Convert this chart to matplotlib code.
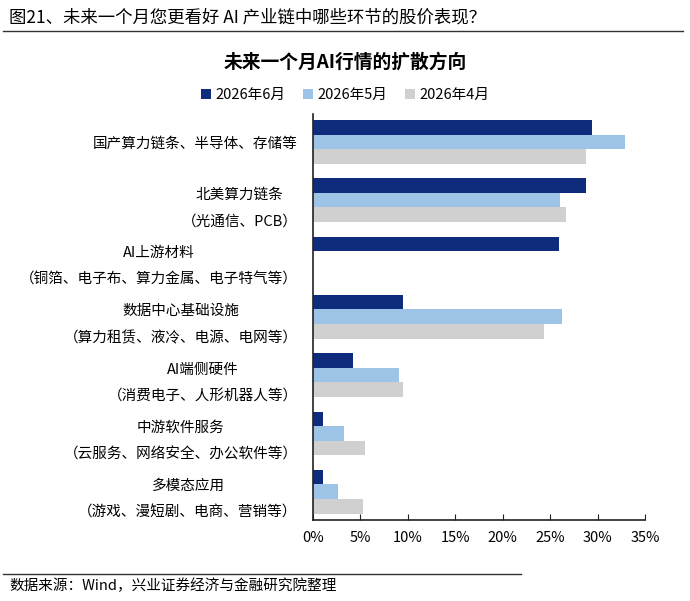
import matplotlib.pyplot as plt
import numpy as np

plt.rcParams['font.family'] = ['Noto Sans CJK SC', 'DejaVu Sans']

categories = ['国产算力链条、半导体、存储等',
              '北美算力链条\n（光通信、PCB）',
              'AI上游材料\n（铜箔、电子布、算力金属、电子特气等）',
              '数据中心基础设施\n（算力租赁、液冷、电源、电网等）',
              'AI端侧硬件\n（消费电子、人形机器人等）',
              '中游软件服务\n（云服务、网络安全、办公软件等）',
              '多模态应用\n（游戏、漫短剧、电商、营销等）']
jun_2026 = [29.4, 28.8, 25.9, 9.5, 4.2, 1.1, 1.1]
may_2026 = [32.9, 26.0, 0, 26.2, 9.1, 3.3, 2.6]
apr_2026 = [28.8, 26.7, 0, 24.4, 9.5, 5.5, 5.3]
series_names = ['2026年6月', '2026年5月', '2026年4月']
colors = ['#0E2B7C', '#9DC3E6', '#D0D0D0']

fig = plt.figure(figsize=(6.9, 6.01), dpi=100)
ax = fig.add_axes([0.4536, 0.1348, 0.4812, 0.6763])

y = np.arange(len(categories))
h = 0.25
for k, (vals, name) in enumerate(zip([jun_2026, may_2026, apr_2026], series_names)):
    ax.barh(y - h + k * h, vals, height=h, color=colors[k], label=name)

ax.set_ylim(len(categories) - 0.515, -0.485)
ax.set_xlim(0, 35)
ax.set_xticks(np.arange(0, 36, 5))
ax.set_xticklabels([f'{v}%' for v in range(0, 36, 5)], fontsize=10.5)
ax.set_yticks(y)
ax.set_yticklabels(categories, fontsize=10.5, multialignment='center', linespacing=2.15)
ax.tick_params(axis='y', length=0, pad=11)
ax.tick_params(axis='x', direction='in', length=4, pad=8, color='#222222')
for s in ['top', 'right']:
    ax.spines[s].set_visible(False)
for s in ['left', 'bottom']:
    ax.spines[s].set_color('#222222')
    ax.spines[s].set_linewidth(1.2)

fig.legend(loc='center', bbox_to_anchor=(0.5, 0.842), ncol=3, frameon=False,
           fontsize=10.5, handlelength=0.7, handleheight=0.7, handletextpad=0.3,
           columnspacing=1.2)

fig.text(0.5, 0.897, '未来一个月AI行情的扩散方向', ha='center', va='center',
         fontsize=13.5, fontweight='bold')
fig.text(0.013, 0.971, '图21、未来一个月您更看好 AI 产业链中哪些环节的股价表现？',
         ha='left', va='center', fontsize=12.5)
fig.add_artist(plt.Line2D([0.004, 0.99], [0.948, 0.948], color='#333333', linewidth=1))
fig.add_artist(plt.Line2D([0.004, 0.755], [0.045, 0.045], color='#333333', linewidth=1))
fig.text(0.013, 0.026, '数据来源：Wind，兴业证券经济与金融研究院整理',
         ha='left', va='center', fontsize=10.5)

fig.savefig('out.png', dpi=100)
